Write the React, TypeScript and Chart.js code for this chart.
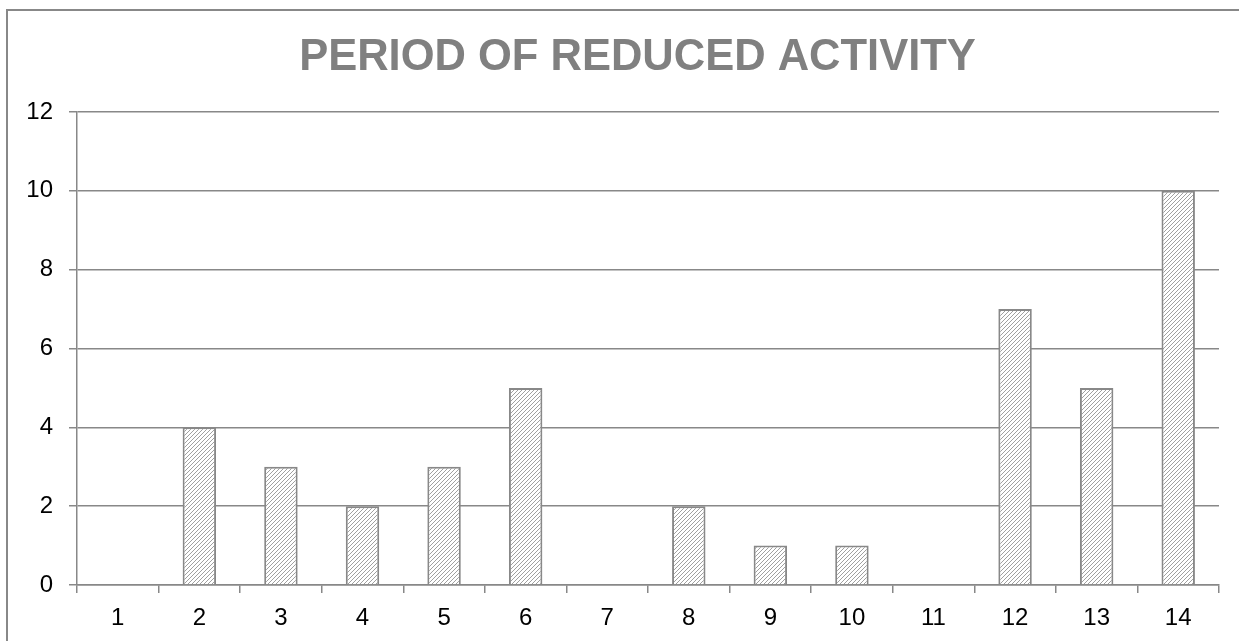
import React, { useEffect, useRef } from "react";
import { Chart, registerables } from "chart.js";

Chart.register(...registerables);

const categories = ["1", "2", "3", "4", "5", "6", "7", "8", "9", "10", "11", "12", "13", "14"];
const values = [0, 4, 3, 2, 3, 5, 0, 2, 1, 1, 0, 7, 5, 10];
const yMin = 0;
const yMax = 12;
const yStep = 2;
const titleText = "PERIOD OF REDUCED ACTIVITY";

const FONT = "'Liberation Sans', Arial, Helvetica, sans-serif";
const GRAY = "#888888";

function makeHatch(): CanvasPattern | string {
  const c = document.createElement("canvas");
  c.width = 4;
  c.height = 4;
  const g = c.getContext("2d");
  if (!g) return "#ddd";
  g.fillStyle = "#ffffff";
  g.fillRect(0, 0, 4, 4);
  g.strokeStyle = "#a0a0a0";
  g.lineWidth = 1;
  g.beginPath();
  g.moveTo(0, 4);
  g.lineTo(4, 0);
  g.moveTo(-1, 1);
  g.lineTo(1, -1);
  g.moveTo(3, 5);
  g.lineTo(5, 3);
  g.stroke();
  return g.createPattern(c, "repeat") || "#ddd";
}

const titlePlugin = {
  id: "customTitle",
  afterDraw(chart: any) {
    const ctx = chart.ctx;
    ctx.save();
    ctx.font = `bold 43.5px ${FONT}`;
    ctx.fillStyle = "#808080";
    ctx.textAlign = "center";
    ctx.textBaseline = "alphabetic";
    ctx.fillText(titleText, 637.5, 70);
    ctx.restore();
  },
};

export default function App() {
  const ref = useRef<HTMLCanvasElement | null>(null);

  useEffect(() => {
    if (!ref.current) return;
    const hatch = makeHatch();
    const chart = new Chart(ref.current, {
      type: "bar",
      data: {
        labels: categories,
        datasets: [
          {
            data: values,
            backgroundColor: hatch as any,
            borderColor: GRAY,
            borderWidth: 2,
            categoryPercentage: 1,
            barPercentage: 0.41,
          },
        ],
      },
      options: {
        animation: false,
        responsive: false,
        maintainAspectRatio: false,
        layout: { padding: { left: 0, right: 20, top: 112, bottom: 0 } },
        plugins: {
          legend: { display: false },
          title: { display: false },
          tooltip: { enabled: false },
        },
        scales: {
          x: {
            offset: true,
            grid: {
              offset: true,
              drawOnChartArea: false,
              drawTicks: true,
              tickLength: 8,
              color: GRAY,
              lineWidth: 1.5,
            },
            border: { display: true, color: GRAY, width: 1.5 },
            ticks: {
              font: { family: FONT, size: 24 },
              color: "#000",
              padding: 11,
              maxRotation: 0,
              autoSkip: false,
            },
            afterFit: (s: any) => {
              s.height = 56;
            },
          },
          y: {
            min: yMin,
            max: yMax,
            grid: {
              color: GRAY,
              lineWidth: 1.5,
              drawTicks: true,
              tickLength: 8,
            },
            border: { display: true, color: GRAY, width: 1.5 },
            ticks: {
              stepSize: yStep,
              font: { family: FONT, size: 24 },
              color: "#000",
              padding: 16,
            },
            afterFit: (s: any) => {
              s.width = 77;
            },
          },
        },
      },
      plugins: [titlePlugin],
    });
    return () => chart.destroy();
  }, []);

  return (
    <div
      style={{
        position: "absolute",
        left: 0,
        top: 0,
        width: 1239,
        height: 641,
        overflow: "hidden",
        background: "#fff",
      }}
    >
      <div
        style={{
          position: "absolute",
          left: 6,
          top: 9,
          width: 1300,
          height: 700,
          border: `2px solid ${GRAY}`,
          boxSizing: "border-box",
        }}
      />
      <canvas
        ref={ref}
        width={1239}
        height={641}
        style={{ position: "absolute", left: 0, top: 0, width: 1239, height: 641 }}
      />
    </div>
  );
}
